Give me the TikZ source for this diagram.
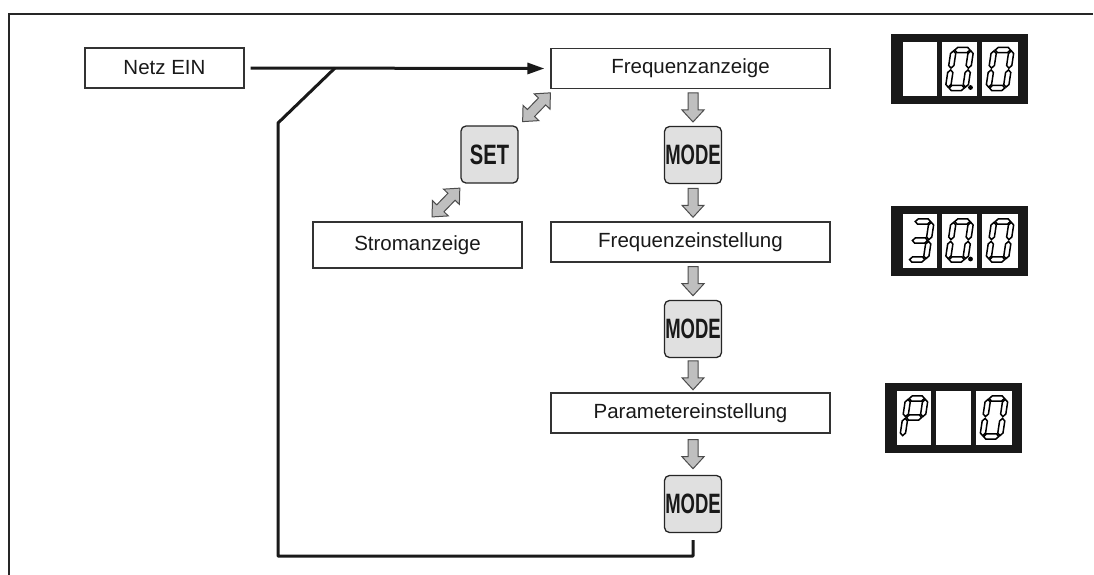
\documentclass[tikz,border=0pt]{standalone}
\usepackage{fontspec}
\setmainfont{Liberation Sans}
\usetikzlibrary{arrows.meta,calc}

\newcommand\sgH[2]{\begin{scope}[shift={(#1,#2)}]\path[segst] (-7.6,0)--(-5,2.6)--(5,2.6)--(7.6,0)--(5,-2.6)--(-5,-2.6)--cycle;\end{scope}}
\newcommand\sgV[2]{\begin{scope}[shift={(#1,#2)}]\path[segst] (0,-8.6)--(2.6,-6)--(2.6,6)--(0,8.6)--(-2.6,6)--(-2.6,-6)--cycle;\end{scope}}
\newcommand\sgA{\sgH{0}{19}}
\newcommand\sgG{\sgH{0}{0}}
\newcommand\sgD{\sgH{0}{-19}}
\newcommand\sgF{\sgV{-8.7}{9.5}}
\newcommand\sgB{\sgV{8.7}{9.5}}
\newcommand\sgE{\sgV{-8.7}{-9.5}}
\newcommand\sgC{\sgV{8.7}{-9.5}}
\newcommand\dgZero{\sgA\sgB\sgC\sgD\sgE\sgF}
\newcommand\dgThree{\sgA\sgB\sgC\sgD\sgG}
\newcommand\dgP{\sgA\sgB\sgF\sgG\sgE}
\newcommand\sevseg[2]{\begin{scope}[shift={#1},xslant=0.15]#2\end{scope}}

\begin{document}
\begin{tikzpicture}[x=1pt,y=1pt,
  box/.style={draw=black!80, line width=1.2pt, fill=white, inner sep=0pt, minimum height=40pt, font=\fontsize{20.5}{24}\selectfont, text=black!90},
  btn/.style={draw=black!85, line width=1.3pt, fill=black!12, rounded corners=5pt, minimum width=57pt, minimum height=57pt, inner sep=0pt, font=\fontsize{28}{30}\selectfont\bfseries, text=black!90},
  mainline/.style={line width=3pt, draw=black!90, line join=round},
  garrow/.style={draw=black!70, line width=1pt, fill=black!25, line join=miter},
  disp/.style={fill=black!90, minimum width=137pt, minimum height=70pt, inner sep=0pt},
  win/.style={fill=white, minimum height=54pt, inner sep=0pt},
  segst/.style={draw=black, line width=1.5pt, fill=white, line join=miter},
  sarrow/.pic={\path[garrow] (-14.5,5)--(2.5,5)--(2.5,11)--(14.5,0)--(2.5,-11)--(2.5,-5)--(-14.5,-5)--cycle;},
  darrow/.pic={\path[garrow] (-20,0)--(-8,11)--(-8,5)--(8,5)--(8,11)--(20,0)--(8,-11)--(8,-5)--(-8,-5)--(-8,-11)--cycle;}
]
\useasboundingbox (0,0) rectangle (1094,-574);
\fill[white] (0,0) rectangle (1094,-574);

% frame
\draw[line width=1.3pt, black!85] (9,-580) -- (9,-14) -- (1093,-14);

% nodes
\node[box, minimum width=159pt] (netz) at (164.5,-68) {Netz EIN};
\node[box, minimum width=279pt] (freq) at (690.5,-68.5) {Frequenzanzeige};
\node[box, minimum width=279pt] (fein) at (690.5,-242) {Frequenzeinstellung};
\node[box, minimum width=279pt] (param) at (690.5,-413) {Parametereinstellung};
\node[box, minimum width=209pt, minimum height=46pt] (strom) at (417.5,-245) {Stromanzeige};
\node[btn] (set) at (489.5,-154.5) {\scalebox{0.72}[1]{SET}};
\node[btn] (mode1) at (693,-155) {\scalebox{0.66}[1]{MODE}};
\node[btn] (mode2) at (693,-329) {\scalebox{0.66}[1]{MODE}};
\node[btn] (mode3) at (693,-504) {\scalebox{0.66}[1]{MODE}};

% gray block arrows
\pic[rotate=-90] at ($(freq.south -| mode1)!0.5!(mode1.north)$) {sarrow};
\pic[rotate=-90] at ($(mode1.south)!0.5!(fein.north -| mode1)$) {sarrow};
\pic[rotate=-90] at ($(fein.south -| mode2)!0.5!(mode2.north)$) {sarrow};
\pic[rotate=-90] at ($(mode2.south)!0.5!(param.north -| mode2)$) {sarrow};
\pic[rotate=-90] at ($(param.south -| mode3)!0.5!(mode3.north)$) {sarrow};
\pic[rotate=46] at ($(freq.south west)!0.5!(set.north east)+(2,0)$) {darrow};
\pic[rotate=46] at ($(set.south west)!0.5!(strom.north)+(7,0)$) {darrow};

% main line and return path
\coordinate (j) at (335,-68);
\coordinate (bend) at (278,-123);
\coordinate (bot) at (278,-556);
\draw[mainline,-{Triangle[length=17pt,width=11pt]}] ([xshift=6pt]netz.east) -- ([xshift=-6pt]freq.west);
\draw[mainline] ([yshift=-7pt]mode3.south) |- (bot) -- (bend) -- (j);

% displays
\node[disp] (disp1) at (959.5,-69) {};
\node[disp] (disp2) at (959.5,-240.5) {};
\node[disp] (disp3) at (953.5,-417.5) {};
\foreach \d in {1,2,3}{
  \node[win, minimum width=34pt] (w\d a) at ($(disp\d)+(-39.5,0)$) {};
  \node[win, minimum width=35pt] (w\d b) at ($(disp\d)+(0,0)$) {};
  \node[win, minimum width=36pt] (w\d c) at ($(disp\d)+(40.5,0)$) {};
}
% display 1: _ 0.0
\sevseg{(w1b)}{\dgZero}
\sevseg{(w1c)}{\dgZero}
\fill[black] ($(w1b)+(11,-18.5)$) circle (2.4);
% display 2: 3 0.0
\sevseg{(w2a)}{\dgThree}
\sevseg{(w2b)}{\dgZero}
\sevseg{(w2c)}{\dgZero}
\fill[black] ($(w2b)+(11,-18.5)$) circle (2.4);
% display 3: P _ 0
\sevseg{(w3a)}{\dgP}
\sevseg{(w3c)}{\dgZero}
\end{tikzpicture}
\end{document}
